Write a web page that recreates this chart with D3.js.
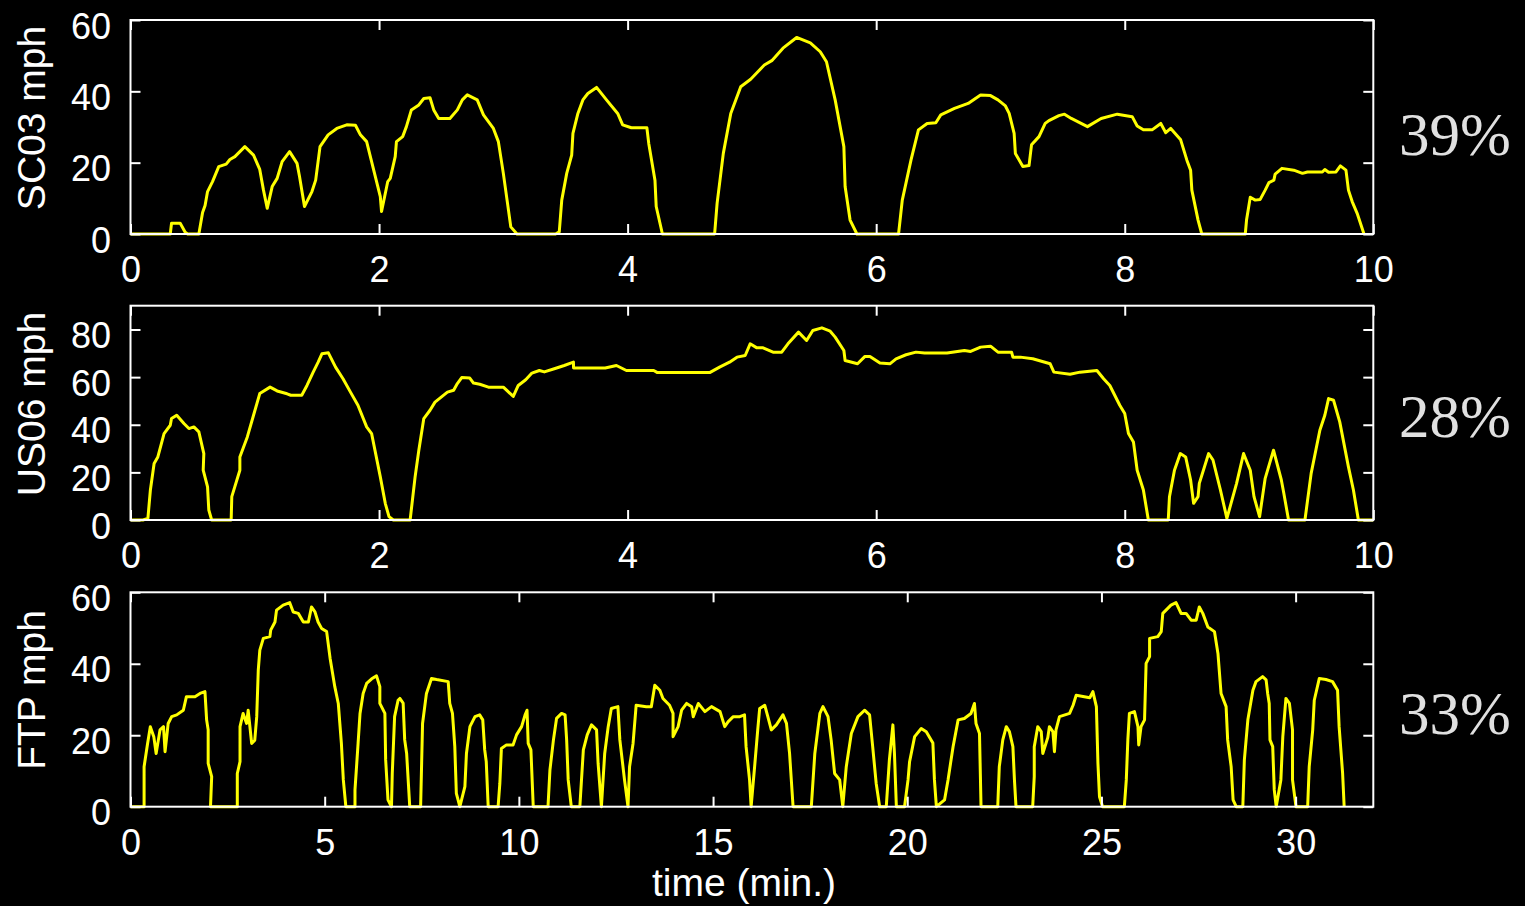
<!DOCTYPE html>
<html>
<head>
<meta charset="utf-8">
<script src="https://cdn.jsdelivr.net/npm/d3@7"></script>
<style>
  html, body { margin: 0; padding: 0; background: #000; }
  svg { display: block; }
</style>
</head>
<body>
<svg id="chart" width="1525" height="906"></svg>
<script>
// ---- DATA (time in minutes, speed in mph) ----
const sc03 = [
  [0,0],[0.32,0],[0.33,3.0],[0.40,3.0],[0.44,0.5],[0.46,0],[0.55,0],[0.58,6],[0.60,8],[0.62,11.9],
  [0.66,14.7],[0.71,18.9],[0.77,19.6],[0.80,20.9],[0.84,21.7],[0.92,24.5],[0.99,22.1],[1.04,18.1],
  [1.07,12.3],[1.10,7.2],[1.14,13.3],[1.18,15.6],[1.22,20.3],[1.28,23.1],[1.34,19.8],[1.36,16.1],
  [1.40,7.7],[1.46,11.9],[1.49,15.1],[1.525,24.5],[1.59,27.8],[1.66,29.6],[1.74,30.6],[1.81,30.5],
  [1.85,27.8],[1.90,25.9],[1.93,21.7],[1.95,18.9],[2.01,10.5],[2.02,6.3],[2.07,14.7],[2.09,15.6],
  [2.13,21.7],[2.14,25.9],[2.19,27.3],[2.22,30.1],[2.26,34.8],[2.32,36.2],[2.36,38.0],[2.41,38.2],
  [2.44,34.8],[2.48,32.4],[2.57,32.4],[2.63,34.8],[2.67,37.6],[2.71,39.0],[2.79,37.6],[2.84,33.4],
  [2.92,29.6],[2.96,25.9],[3.00,17.0],[3.03,9.5],[3.06,2.0],[3.11,0],[3.42,0],[3.45,0.6],
  [3.47,9.5],[3.51,17.0],[3.55,22.1],[3.56,28.2],[3.60,33.8],[3.64,37.6],[3.68,39.4],[3.75,41.1],
  [3.83,37.6],[3.92,33.8],[3.96,30.6],[4.03,29.8],[4.155,29.8],[4.17,25.4],[4.22,15.1],[4.23,7.7],
  [4.28,0],[4.70,0],[4.72,8.6],[4.77,22.6],[4.83,33.8],[4.91,41.3],[4.99,43.4],[5.10,47.4],
  [5.16,48.6],[5.25,52.1],[5.36,55.1],[5.47,53.6],[5.55,51.1],[5.60,48.3],[5.67,37.6],[5.74,24.5],
  [5.75,13.3],[5.79,3.9],[5.845,0],[6.18,0],[6.21,9.5],[6.28,20.7],[6.34,29.2],[6.41,31.0],
  [6.48,31.2],[6.52,33.4],[6.63,35.2],[6.74,36.6],[6.84,39.0],[6.92,38.8],[6.98,37.6],[7.04,35.9],
  [7.07,33.8],[7.11,28.2],[7.12,22.6],[7.18,18.9],[7.23,19.2],[7.24,22.1],[7.25,25.0],[7.31,27.3],
  [7.36,31.0],[7.39,31.8],[7.47,33.2],[7.515,33.6],[7.57,32.4],[7.70,30.1],[7.81,32.4],[7.94,33.6],
  [8.06,32.9],[8.10,30.3],[8.15,29.2],[8.22,29.2],[8.29,31.0],[8.33,28.4],[8.37,29.6],[8.45,26.4],
  [8.50,20.7],[8.53,17.9],[8.54,12.3],[8.59,3.9],[8.62,0],[8.97,0],[8.98,3.9],[9.01,10.3],
  [9.05,9.5],[9.09,9.7],[9.13,12.3],[9.16,14.4],[9.20,15.1],[9.21,16.8],[9.265,18.4],[9.36,17.9],
  [9.43,17.0],[9.47,17.4],[9.59,17.4],[9.61,18.1],[9.64,17.3],[9.70,17.4],[9.735,19.1],[9.78,17.9],
  [9.80,12.3],[9.83,9.1],[9.87,5.8],[9.925,0]
];

const us06 = [
  [0,0],[0.10,0],[0.14,0.7],[0.16,12.6],[0.19,23.7],[0.22,26.5],[0.27,36.3],[0.32,39.8],
  [0.33,42.6],[0.372,44.0],[0.43,40.5],[0.47,38.4],[0.51,39.1],[0.55,37.0],[0.59,27.9],[0.585,20.9],
  [0.62,13.9],[0.63,4.2],[0.653,0],[0.81,0],[0.815,9.8],[0.88,20.9],[0.88,26.5],[0.94,34.9],
  [0.99,44.0],[1.04,53.1],[1.123,55.8],[1.18,54.2],[1.26,53.0],[1.29,52.4],[1.378,52.4],[1.42,56.5],
  [1.47,62.1],[1.51,66.3],[1.54,69.8],[1.592,70.2],[1.65,64.2],[1.71,59.3],[1.77,53.7],[1.83,48.2],
  [1.90,39.1],[1.94,36.3],[2.01,18.1],[2.05,7.0],[2.08,1.4],[2.115,0],[2.25,0],[2.29,18.1],
  [2.32,29.3],[2.36,42.6],[2.41,46.1],[2.45,49.5],[2.55,53.7],[2.60,54.5],[2.63,57.3],[2.665,59.8],
  [2.73,59.6],[2.76,57.5],[2.81,57.0],[2.88,55.8],[3.00,55.8],[3.08,51.9],[3.12,56.5],[3.18,58.9],
  [3.23,61.7],[3.29,62.8],[3.33,62.2],[3.41,63.5],[3.49,64.9],[3.564,66.3],[3.565,63.8],[3.82,63.8],
  [3.91,64.9],[3.99,62.8],[4.21,62.8],[4.24,61.9],[4.66,61.9],[4.74,64.2],[4.82,66.3],[4.88,68.4],
  [4.946,69.1],[4.986,74.0],[5.04,72.3],[5.09,72.3],[5.17,70.5],[5.24,70.5],[5.29,74.0],[5.375,78.9],
  [5.44,75.4],[5.49,79.6],[5.563,80.7],[5.63,79.3],[5.67,76.8],[5.74,71.2],[5.75,67.0],[5.85,65.6],
  [5.91,68.7],[5.95,68.7],[6.03,65.9],[6.11,65.6],[6.16,67.7],[6.24,69.4],[6.32,70.5],[6.39,70.1],
  [6.57,70.1],[6.71,71.2],[6.76,70.8],[6.84,72.6],[6.92,73.0],[6.98,70.5],[7.09,70.4],[7.10,68.4],
  [7.16,68.4],[7.26,67.7],[7.40,65.6],[7.43,62.1],[7.56,61.2],[7.64,62.1],[7.776,62.8],[7.83,59.3],
  [7.88,56.5],[7.96,48.2],[8.00,44.7],[8.03,36.3],[8.07,32.8],[8.10,20.9],[8.15,12.6],[8.19,0],
  [8.35,0],[8.36,9.8],[8.40,20.9],[8.447,27.9],[8.49,26.5],[8.53,16.8],[8.554,7.0],[8.59,9.8],
  [8.60,15.4],[8.675,27.9],[8.71,25.2],[8.77,12.6],[8.822,0.7],[8.90,15.4],[8.956,27.9],[9.01,20.9],
  [9.04,9.8],[9.085,1.4],[9.13,17.5],[9.197,29.3],[9.26,16.8],[9.28,11.2],[9.318,0],[9.45,0],
  [9.50,19.6],[9.57,37.7],[9.61,44.0],[9.64,51.0],[9.68,50.3],[9.73,41.2],[9.80,22.3],[9.84,12.6],
  [9.88,0],[10,0]
];

const ftp = [
  [0,0],[0.35,0],[0.35,11.2],[0.44,17.7],[0.51,22.4],[0.60,19.6],[0.66,14.9],[0.76,21.5],[0.85,22.4],
  [0.89,15.4],[0.97,23.3],[1.06,25.2],[1.19,25.7],[1.36,27.0],[1.44,30.8],[1.66,30.8],[1.79,31.7],
  [1.917,32.2],[1.96,24.3],[2.00,21.5],[2.00,12.1],[2.09,8.4],[2.06,0],[2.75,0],[2.75,9.3],
  [2.82,12.6],[2.82,22.4],[2.90,26.1],[2.99,23.3],[3.03,27.0],[3.12,17.7],[3.20,18.6],[3.25,25.2],
  [3.29,38.2],[3.33,43.8],[3.42,47.1],[3.59,47.6],[3.61,49.4],[3.72,51.7],[3.76,55.0],[3.93,56.4],
  [4.10,57.1],[4.19,54.5],[4.32,54.1],[4.45,51.7],[4.58,51.7],[4.66,55.9],[4.75,54.5],[4.83,51.7],
  [4.92,49.9],[5.05,49.0],[5.14,41.5],[5.26,33.6],[5.35,28.9],[5.39,23.3],[5.43,17.7],[5.48,7.5],
  [5.545,0],[5.78,0],[5.78,4.7],[5.86,17.7],[5.91,26.1],[5.99,31.7],[6.08,34.5],[6.21,35.8],
  [6.335,36.6],[6.42,33.6],[6.42,28.9],[6.55,26.1],[6.57,13.1],[6.63,1.9],[6.72,0],[6.74,9.3],
  [6.80,25.2],[6.89,29.8],[6.935,30.3],[7.02,29.0],[7.06,18.7],[7.11,14.9],[7.19,0],[7.47,0],
  [7.52,23.3],[7.62,31.7],[7.75,35.9],[7.88,35.6],[8.18,35.0],[8.22,28.9],[8.29,26.1],[8.35,16.8],
  [8.39,3.7],[8.48,0],[8.61,5.6],[8.65,14.9],[8.74,22.4],[8.87,25.2],[8.99,25.7],[9.07,24.3],
  [9.12,15.9],[9.16,12.6],[9.21,0],[9.465,0],[9.51,6.5],[9.55,16.3],[9.68,17.3],[9.85,17.3],
  [9.94,20.1],[10.07,22.4],[10.16,25.7],[10.21,27.0],[10.24,17.7],[10.31,15.9],[10.37,0],[10.75,0],
  [10.80,10.3],[10.89,18.7],[10.97,24.7],[11.10,26.1],[11.19,25.7],[11.23,18.7],[11.27,7.5],[11.35,0],
  [11.57,0],[11.66,15.9],[11.76,20.1],[11.87,22.9],[12.00,21.5],[12.04,12.1],[12.125,0],[12.21,14.9],
  [12.30,22.4],[12.38,27.5],[12.55,28.0],[12.60,18.7],[12.72,7.5],[12.81,0],[12.85,11.2],[12.94,17.7],
  [13.02,28.4],[13.28,28.0],[13.41,28.0],[13.50,34.0],[13.63,32.6],[13.71,30.3],[13.88,28.4],[13.97,26.1],
  [13.97,19.6],[14.10,22.4],[14.19,27.0],[14.32,28.9],[14.45,28.0],[14.49,25.2],[14.62,28.9],[14.79,26.6],
  [14.96,28.0],[15.18,26.6],[15.30,22.4],[15.39,23.8],[15.52,25.2],[15.69,25.2],[15.81,25.7],[15.85,16.8],
  [15.94,7.5],[15.98,0],[16.07,11.2],[16.15,21.5],[16.20,27.5],[16.33,28.4],[16.41,25.2],[16.50,21.5],
  [16.63,22.9],[16.80,25.7],[16.89,23.3],[16.97,14.9],[17.06,0],[17.53,0],[17.62,14.9],[17.75,26.1],
  [17.83,28.0],[17.96,25.2],[18.04,18.7],[18.13,9.3],[18.26,7.5],[18.34,0],[18.43,11.2],[18.56,20.5],
  [18.73,25.2],[18.90,27.0],[19.03,25.7],[19.11,16.8],[19.20,6.5],[19.29,0],[19.46,0],[19.54,13.1],
  [19.63,22.9],[19.67,15.0],[19.72,0],[19.93,0],[20.02,7.5],[20.06,12.6],[20.19,19.6],[20.36,21.9],
  [20.49,21.0],[20.66,17.8],[20.70,7.5],[20.75,0],[20.96,1.9],[21.05,7.5],[21.18,16.8],[21.31,24.3],
  [21.47,24.7],[21.64,26.1],[21.73,28.9],[21.77,23.3],[21.86,20.5],[21.90,0],[22.33,0],[22.37,11.2],
  [22.46,18.7],[22.55,22.4],[22.63,21.0],[22.72,16.8],[22.76,7.5],[22.80,0],[23.23,0],[23.27,8.4],
  [23.27,16.8],[23.36,22.4],[23.45,21.0],[23.49,14.9],[23.62,19.4],[23.66,22.4],[23.75,21.0],[23.79,15.4],
  [23.83,21.5],[23.92,25.2],[24.18,26.1],[24.27,28.4],[24.35,31.2],[24.70,30.5],[24.78,32.2],[24.87,28.0],
  [24.91,12.1],[24.95,2.8],[25.03,0],[25.59,0],[25.64,7.5],[25.68,18.7],[25.72,26.1],[25.85,26.6],
  [25.94,22.4],[25.96,17.3],[26.02,22.4],[26.11,24.3],[26.15,40.1],[26.24,42.0],[26.24,47.1],[26.45,47.6],
  [26.54,49.0],[26.58,54.1],[26.79,56.4],[26.92,57.1],[27.05,54.1],[27.18,54.1],[27.31,52.2],[27.44,52.2],
  [27.52,55.9],[27.61,54.1],[27.74,50.3],[27.91,49.0],[28.00,42.9],[28.08,31.7],[28.21,28.0],[28.25,18.7],
  [28.34,11.2],[28.39,1.9],[28.47,0],[28.64,0],[28.68,13.1],[28.77,24.3],[28.90,32.6],[28.98,35.0],
  [29.15,36.4],[29.24,35.5],[29.28,31.7],[29.32,28.9],[29.34,18.7],[29.41,16.8],[29.45,4.7],[29.50,0],
  [29.62,7.5],[29.67,19.6],[29.75,30.3],[29.84,28.9],[29.92,21.5],[29.92,7.5],[30.01,0],[30.31,0],
  [30.35,11.2],[30.44,21.5],[30.48,29.8],[30.61,35.9],[30.78,35.6],[30.95,35.0],[31.08,32.6],[31.12,22.4],
  [31.21,9.3],[31.25,0]
];

// tick labels / axis settings
const sc03YTicks = [0, 20, 40, 60];
const us06YTicks = [0, 20, 40, 60, 80];
const ftpYTicks  = [0, 20, 40, 60];
const shortXTicks = [0, 2, 4, 6, 8, 10];
const ftpXTicks  = [0, 5, 10, 15, 20, 25, 30];
const panelNames = ["SC03 mph", "US06 mph", "FTP mph"];
const shares     = ["39%", "28%", "33%"];
const xLabelText = "time (min.)";

// ---- LAYOUT ----
const svg = d3.select("#chart");
svg.append("rect").attr("width", 1525).attr("height", 906).attr("fill", "#000");

const left = 130.5, right = 1373.3;
const panels = [
  { data: sc03, top: 20,    bottom: 234,   xMax: 10, yMax: 60, xt: shortXTicks, yt: sc03YTicks, label: panelNames[0], share: shares[0], labelY: 118, shareY: 155 },
  { data: us06, top: 305.7, bottom: 520,   xMax: 10, yMax: 90, xt: shortXTicks, yt: us06YTicks, label: panelNames[1], share: shares[1], labelY: 404, shareY: 437 },
  { data: ftp,  top: 592.3, bottom: 806.7, xMax: 32, yMax: 60, xt: ftpXTicks,  yt: ftpYTicks,  label: panelNames[2], share: shares[2], labelY: 690, shareY: 734 }
];

const tickFont = "'Liberation Sans', Arial, Helvetica, sans-serif";
const tickLen = 10;

panels.forEach(p => {
  const x = d3.scaleLinear().domain([0, p.xMax]).range([left, right]);
  const y = d3.scaleLinear().domain([0, p.yMax]).range([p.bottom, p.top]);
  const g = svg.append("g");

  // data line
  const line = d3.line().x(d => x(d[0])).y(d => y(d[1]));
  g.append("path")
    .datum(p.data)
    .attr("d", line)
    .attr("fill", "none")
    .attr("stroke", "#ffff00")
    .attr("stroke-width", 3)
    .attr("stroke-linejoin", "round");

  // box
  g.append("rect")
    .attr("x", left).attr("y", p.top)
    .attr("width", right - left).attr("height", p.bottom - p.top)
    .attr("fill", "none").attr("stroke", "#fff").attr("stroke-width", 2);

  // axes via d3 (inward ticks, labels styled separately)
  const xAxisB = d3.axisBottom(x).tickValues(p.xt).tickSizeInner(-tickLen).tickSizeOuter(0).tickFormat(d3.format("d"));
  const xAxisT = d3.axisTop(x).tickValues(p.xt).tickSizeInner(-tickLen).tickSizeOuter(0).tickFormat("");
  const yAxisL = d3.axisLeft(y).tickValues(p.yt).tickSizeInner(-tickLen).tickSizeOuter(0).tickFormat(d3.format("d"));
  const yAxisR = d3.axisRight(y).tickValues(p.yt).tickSizeInner(-tickLen).tickSizeOuter(0).tickFormat("");

  const styleAxis = sel => {
    sel.select(".domain").remove();
    sel.selectAll(".tick line").attr("stroke", "#fff").attr("stroke-width", 2);
    sel.selectAll(".tick text")
      .attr("fill", "#fff")
      .style("font-family", tickFont)
      .style("font-size", "36px");
  };

  const gxb = g.append("g").attr("transform", `translate(0,${p.bottom})`).call(xAxisB).call(styleAxis);
  gxb.selectAll(".tick text").attr("y", 0).attr("dy", 0).attr("transform", "translate(0,48)");
  g.append("g").attr("transform", `translate(0,${p.top})`).call(xAxisT).call(styleAxis);
  const gyl = g.append("g").attr("transform", `translate(${left},0)`).call(yAxisL).call(styleAxis);
  gyl.selectAll(".tick text").attr("x", -19.5).attr("dy", 0).attr("y", 18).attr("text-anchor", "end");
  g.append("g").attr("transform", `translate(${right},0)`).call(yAxisR).call(styleAxis);

  // y label
  svg.append("text")
    .attr("transform", `translate(45,${p.labelY}) rotate(-90)`)
    .attr("text-anchor", "middle")
    .attr("fill", "#fff")
    .style("font-family", tickFont)
    .style("font-size", "39px")
    .text(p.label);

  // share text
  svg.append("text")
    .attr("x", 1399).attr("y", p.shareY)
    .attr("fill", "#e0e0e0")
    .style("font-family", "'Liberation Serif', 'Times New Roman', serif")
    .style("font-size", "61px")
    .text(p.share);
});

// x label
svg.append("text")
  .attr("x", 744).attr("y", 896)
  .attr("text-anchor", "middle")
  .attr("fill", "#fff")
  .style("font-family", tickFont)
  .style("font-size", "39px")
  .text(xLabelText);
</script>
</body>
</html>
